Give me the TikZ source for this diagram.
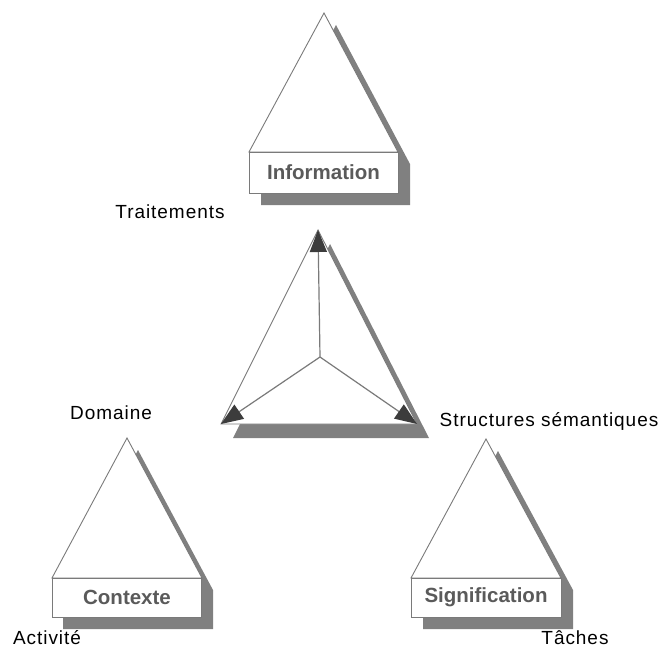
\documentclass[tikz,border=0pt]{standalone}
\usepackage{fontspec}
\setmainfont{Liberation Sans}
\usetikzlibrary{arrows.meta}

\definecolor{ombre}{HTML}{808080}
\definecolor{trait}{HTML}{7A7A7A}
\definecolor{titre}{HTML}{5A5A5A}
\definecolor{pointe}{HTML}{3C3C3C}

\tikzset{
  ombre/.style={fill=ombre, draw=none},
  contour/.style={draw=trait, fill=white, line width=0.9pt},
  boite/.style={contour, minimum width=149pt, minimum height=41pt, inner sep=0pt,
    font=\fontsize{20.5}{24}\selectfont\bfseries, text=titre},
  etiquette/.style={font=\fontsize{19}{22}\selectfont\addfontfeature{LetterSpace=5}, text=black},
  fleche/.style={draw=trait, line width=1.2pt, -{Triangle[length=22pt, width=17pt, color=pointe]}}
}

\begin{document}
\begin{tikzpicture}[x=1pt, y=-1pt]
  \useasboundingbox (0,0) rectangle (661,650);

  % pyramide du haut
  \fill[ombre, shift={(12,12)}] (324,13) -- (398,152) -- (398,193) -- (249,193) -- (249,152) -- cycle;
  \filldraw[contour] (249,152) -- (324,13) -- (398,152) -- cycle;
  \node[boite] (info) at (323.5,172.5) {Information};

  % pyramide en bas a gauche
  \fill[ombre, shift={(11,12)}] (127,438) -- (202,578) -- (202,617) -- (52,617) -- (52,578) -- cycle;
  \filldraw[contour] (52,578) -- (127,438) -- (202,578) -- cycle;
  \node[boite, minimum height=39pt] (contexte) at (127,597.5) {Contexte};

  % pyramide en bas a droite
  \fill[ombre, shift={(12,12)}] (486,439) -- (561,578) -- (561,617) -- (411,617) -- (411,578) -- cycle;
  \filldraw[contour] (411,578) -- (486,439) -- (561,578) -- cycle;
  \node[boite, minimum width=150pt, minimum height=39pt] (signif) at (486,597.5) {Signification};

  % triangle central
  \coordinate (sommet) at (318,230);
  \coordinate (gauche) at (221,424);
  \coordinate (droite) at (417,424);
  \coordinate (centre) at (320,357);
  \fill[ombre, shift={(12,14)}] (318,230) -- (417,424) -- (221,424) -- cycle;
  \filldraw[contour] (sommet) -- (droite) -- (gauche) -- cycle;
  \draw[fleche] (centre) -- (sommet);
  \draw[fleche] (centre) -- (gauche);
  \draw[fleche] (centre) -- (droite);

  % etiquettes
  \node[etiquette] (traitements) at (170,212) {Traitements};
  \node[etiquette] (domaine) at (111,413) {Domaine};
  \node[etiquette] (structures) at (549,421) {Structures sémantiques};
  \node[etiquette] (activite) at (47,638) {Activité};
  \node[etiquette] (taches) at (575,638) {Tâches};
\end{tikzpicture}
\end{document}
